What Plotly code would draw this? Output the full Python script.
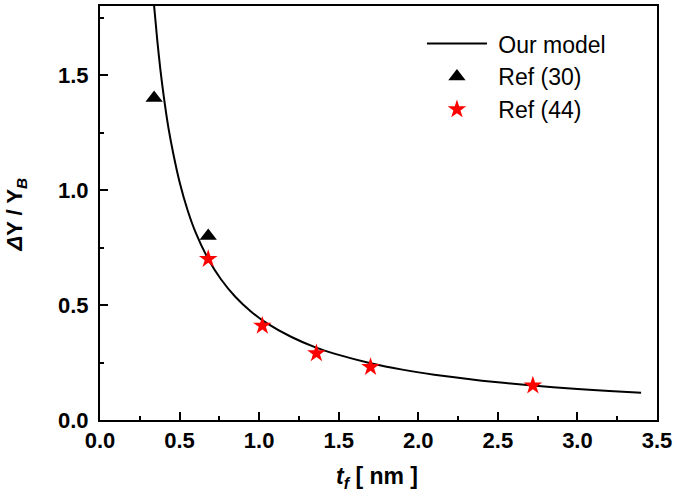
import plotly.graph_objects as go

# model curve
model_t = [0.34, 0.36, 0.38, 0.40, 0.43, 0.46, 0.50, 0.55, 0.60, 0.68, 0.76, 0.85,
           0.95, 1.05, 1.20, 1.35, 1.50, 1.70, 1.90, 2.10, 2.40, 2.70, 3.00, 3.20, 3.40]
model_dy = [1.80, 1.65, 1.52, 1.41, 1.27, 1.16, 1.035, 0.913, 0.817, 0.700, 0.612, 0.536,
            0.471, 0.420, 0.362, 0.317, 0.283, 0.247, 0.219, 0.197, 0.171, 0.151, 0.135, 0.126, 0.119]

# Ref (30)
ref30_t = [0.34, 0.68]
ref30_dy = [1.40, 0.80]

# Ref (44)
ref44_t = [0.68, 1.02, 1.36, 1.70, 2.72]
ref44_dy = [0.70, 0.41, 0.29, 0.23, 0.15]

FONT = "Liberation Sans, Arial, sans-serif"
PAD = '\u00a0'  # a bit more room between legend symbol and label

fig = go.Figure()

fig.add_trace(go.Scatter(
    x=model_t, y=model_dy, mode='lines', name=PAD + 'Our model',
    line=dict(color='black', width=2, shape='spline', smoothing=0.6)
))
fig.add_trace(go.Scatter(
    x=ref30_t, y=ref30_dy, mode='markers', name=PAD + 'Ref (30)',
    marker=dict(symbol='triangle-up', size=15, color='black')
))
fig.add_trace(go.Scatter(
    x=ref44_t, y=ref44_dy, mode='markers', name=PAD + 'Ref (44)',
    marker=dict(symbol='star', size=14, color='red', line=dict(width=0))
))

axis_common = dict(
    showline=True, linecolor='black', linewidth=2, mirror=True,
    ticks='inside', ticklen=8, tickwidth=1.5, tickcolor='black',
    showgrid=False, zeroline=False, automargin=False,
    tickfont=dict(family=FONT, size=22, color='black', weight='bold'),
    minor=dict(ticks='inside', ticklen=4, tickwidth=1.5, tickcolor='black', dtick=0.25),
    tickformat='.1f', dtick=0.5, tick0=0,
)

fig.update_xaxes(range=[0, 3.5], **axis_common, ticklabeloverflow='allow')
fig.update_yaxes(range=[0, 1.8], **axis_common, ticklabelstandoff=5)

# axis titles
fig.add_annotation(
    text='<b><i>t</i><sub><i>f</i></sub> [ nm ]</b>',
    xref='paper', yref='paper', x=0.498, y=-0.14, xanchor='center', yanchor='middle',
    showarrow=False, font=dict(family=FONT, size=23, color='black'),
)
fig.add_annotation(
    text='<b><i>Δ</i>Y / Y<sub><i>B</i></sub></b>',
    xref='paper', yref='paper', x=-0.151, y=0.496, xanchor='center', yanchor='middle',
    textangle=-90, showarrow=False, font=dict(family=FONT, size=22, color='black'),
)

fig.update_layout(
    width=678, height=503,
    margin=dict(l=100, r=21, t=6, b=83),
    paper_bgcolor='white', plot_bgcolor='white',
    legend=dict(x=0.578, y=0.961, xanchor='left', yanchor='top',
                font=dict(family=FONT, size=23, color='black'),
                bgcolor='rgba(0,0,0,0)', itemwidth=60, tracegroupgap=0),
    showlegend=True,
)

# the page body has a default 8px margin; drop it so the figure fills the window
fig.write_html("out.html", config={'displayModeBar': False},
               post_script="document.body.style.margin='0';")
